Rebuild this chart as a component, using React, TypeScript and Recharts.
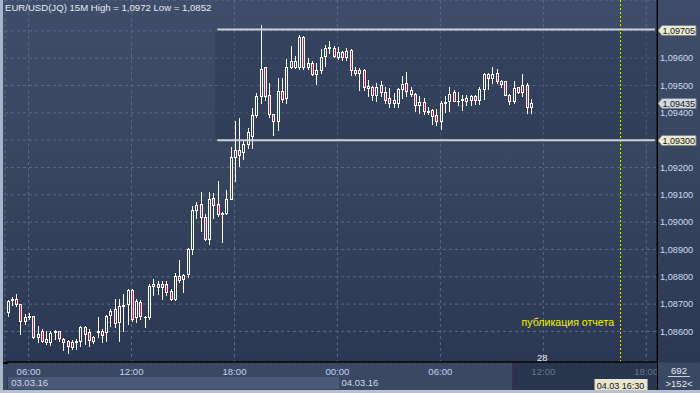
import {
  ComposedChart, Bar, XAxis, YAxis, CartesianGrid, ReferenceLine, ReferenceArea,
} from 'recharts';

const opens = [
  1.08670, 1.08716, 1.08720, 1.08700, 1.08637, 1.08651, 1.08655, 1.08578, 1.08602, 1.08562,
  1.08562, 1.08596, 1.08600, 1.08574, 1.08565, 1.08544, 1.08563, 1.08566, 1.08615, 1.08596,
  1.08566, 1.08598, 1.08602, 1.08599, 1.08659, 1.08681, 1.08633, 1.08693, 1.08700, 1.08751,
  1.08651, 1.08708, 1.08651, 1.08651, 1.08766, 1.08775, 1.08761, 1.08775, 1.08748, 1.08718,
  1.08802, 1.08791, 1.08809, 1.08900, 1.09044, 1.09065, 1.09020, 1.08937, 1.09089, 1.09065,
  1.09030, 1.09034, 1.09085, 1.09239, 1.09265, 1.09255, 1.09285, 1.09314, 1.09393, 1.09460,
  1.09567, 1.09466, 1.09396, 1.09369, 1.09481, 1.09454, 1.09567, 1.09567, 1.09567, 1.09677,
  1.09569, 1.09582, 1.09542, 1.09557, 1.09609, 1.09637, 1.09639, 1.09604, 1.09622, 1.09604,
  1.09630, 1.09557, 1.09545, 1.09557, 1.09500, 1.09493, 1.09466, 1.09503, 1.09476, 1.09454,
  1.09436, 1.09436, 1.09487, 1.09509, 1.09469, 1.09469, 1.09430, 1.09439, 1.09403, 1.09411,
  1.09393, 1.09369, 1.09436, 1.09442, 1.09476, 1.09442, 1.09446, 1.09444, 1.09448, 1.09460,
  1.09448, 1.09487, 1.09542, 1.09529, 1.09545, 1.09515, 1.09515, 1.09464, 1.09442, 1.09493,
  1.09476, 1.09503, 1.09421,
];
const highs = [
  1.08715, 1.08726, 1.08736, 1.08700, 1.08663, 1.08667, 1.08657, 1.08620, 1.08608, 1.08602,
  1.08602, 1.08606, 1.08602, 1.08576, 1.08568, 1.08568, 1.08572, 1.08620, 1.08620, 1.08608,
  1.08584, 1.08651, 1.08608, 1.08659, 1.08681, 1.08720, 1.08718, 1.08736, 1.08755, 1.08755,
  1.08720, 1.08715, 1.08655, 1.08772, 1.08791, 1.08785, 1.08785, 1.08785, 1.08754, 1.08813,
  1.08860, 1.08809, 1.08906, 1.09058, 1.09073, 1.09112, 1.09028, 1.09111, 1.09107, 1.09152,
  1.09036, 1.09116, 1.09274, 1.09369, 1.09380, 1.09300, 1.09345, 1.09418, 1.09473, 1.09720,
  1.09569, 1.09511, 1.09396, 1.09527, 1.09527, 1.09596, 1.09645, 1.09608, 1.09685, 1.09681,
  1.09600, 1.09588, 1.09582, 1.09633, 1.09649, 1.09663, 1.09645, 1.09642, 1.09627, 1.09639,
  1.09633, 1.09569, 1.09564, 1.09560, 1.09521, 1.09500, 1.09509, 1.09515, 1.09493, 1.09491,
  1.09474, 1.09491, 1.09535, 1.09550, 1.09493, 1.09472, 1.09460, 1.09456, 1.09423, 1.09414,
  1.09414, 1.09442, 1.09460, 1.09493, 1.09482, 1.09476, 1.09464, 1.09464, 1.09466, 1.09464,
  1.09493, 1.09547, 1.09547, 1.09566, 1.09560, 1.09521, 1.09517, 1.09469, 1.09515, 1.09496,
  1.09543, 1.09509, 1.09450,
];
const lows = [
  1.08657, 1.08696, 1.08693, 1.08590, 1.08627, 1.08645, 1.08576, 1.08560, 1.08560, 1.08554,
  1.08550, 1.08572, 1.08564, 1.08533, 1.08521, 1.08536, 1.08536, 1.08548, 1.08554, 1.08548,
  1.08557, 1.08578, 1.08560, 1.08566, 1.08620, 1.08615, 1.08565, 1.08602, 1.08627, 1.08639,
  1.08633, 1.08647, 1.08615, 1.08647, 1.08734, 1.08736, 1.08718, 1.08734, 1.08714, 1.08714,
  1.08779, 1.08745, 1.08799, 1.08882, 1.09014, 1.08967, 1.08934, 1.08921, 1.09016, 1.09022,
  1.08927, 1.09031, 1.09083, 1.09150, 1.09205, 1.09230, 1.09270, 1.09273, 1.09385, 1.09436,
  1.09448, 1.09383, 1.09320, 1.09338, 1.09438, 1.09436, 1.09564, 1.09564, 1.09560, 1.09561,
  1.09561, 1.09539, 1.09505, 1.09545, 1.09572, 1.09618, 1.09604, 1.09598, 1.09594, 1.09594,
  1.09539, 1.09539, 1.09484, 1.09484, 1.09462, 1.09448, 1.09445, 1.09460, 1.09436, 1.09423,
  1.09423, 1.09423, 1.09454, 1.09460, 1.09460, 1.09405, 1.09399, 1.09397, 1.09396, 1.09360,
  1.09357, 1.09342, 1.09403, 1.09405, 1.09442, 1.09430, 1.09409, 1.09430, 1.09430, 1.09433,
  1.09433, 1.09451, 1.09488, 1.09509, 1.09509, 1.09494, 1.09464, 1.09433, 1.09436, 1.09472,
  1.09460, 1.09399, 1.09399,
];
const closes = [
  1.08712, 1.08720, 1.08700, 1.08637, 1.08651, 1.08655, 1.08578, 1.08590, 1.08566, 1.08572,
  1.08594, 1.08600, 1.08575, 1.08563, 1.08547, 1.08560, 1.08566, 1.08615, 1.08590, 1.08568,
  1.08578, 1.08600, 1.08586, 1.08655, 1.08675, 1.08629, 1.08693, 1.08697, 1.08751, 1.08647,
  1.08712, 1.08657, 1.08653, 1.08766, 1.08775, 1.08761, 1.08775, 1.08746, 1.08718, 1.08802,
  1.08788, 1.08806, 1.08900, 1.09046, 1.09061, 1.09018, 1.08937, 1.09085, 1.09062, 1.09028,
  1.09034, 1.09085, 1.09239, 1.09265, 1.09247, 1.09285, 1.09330, 1.09393, 1.09462, 1.09560,
  1.09460, 1.09396, 1.09369, 1.09481, 1.09450, 1.09567, 1.09590, 1.09590, 1.09677, 1.09569,
  1.09582, 1.09542, 1.09557, 1.09604, 1.09639, 1.09642, 1.09609, 1.09622, 1.09604, 1.09627,
  1.09557, 1.09545, 1.09557, 1.09493, 1.09490, 1.09466, 1.09493, 1.09476, 1.09448, 1.09436,
  1.09448, 1.09487, 1.09507, 1.09481, 1.09482, 1.09430, 1.09439, 1.09405, 1.09407, 1.09387,
  1.09369, 1.09436, 1.09440, 1.09469, 1.09445, 1.09444, 1.09450, 1.09453, 1.09460, 1.09448,
  1.09487, 1.09542, 1.09529, 1.09542, 1.09515, 1.09505, 1.09464, 1.09445, 1.09491, 1.09476,
  1.09503, 1.09421, 1.09435,
];

// 152 visible 15-minute slots, starting 03.03 04:45
const SLOT_COUNT = 152;
const slots: string[] = [];
for (let i = 0; i < SLOT_COUNT; i++) {
  const m = 4 * 60 + 45 + i * 15;
  const day = 3 + Math.floor(m / 1440);
  const t = m % 1440;
  const p2 = (n: number) => String(n).padStart(2, '0');
  slots.push(`${p2(day)}.03 ${p2(Math.floor(t / 60))}:${p2(t % 60)}`);
}

const timeTicks = ['03.03 06:00', '03.03 12:00', '03.03 18:00', '04.03 00:00', '04.03 06:00', '04.03 12:00', '04.03 18:00'];
const dateTicks = ['03.03 04:45', '04.03 00:00'];
const dateLabels = ['03.03.16', '04.03.16'];
const priceTicks = [1.086, 1.087, 1.088, 1.089, 1.090, 1.091, 1.092, 1.093, 1.094, 1.095, 1.096, 1.097];
const hiddenPriceLabels = [1.093, 1.097];

const levelHigh = 1.09705;
const levelLow = 1.093;
const levelStart = '03.03 17:00';
const eventSlot = '04.03 16:30';
const eventLabel = 'публикация отчета';

const FONT = '"Liberation Sans", Arial, sans-serif';
const lastIndex = closes.length - 1;
const lastClose = closes[lastIndex];

const data = slots.map((t, i) => ({
  t,
  open: opens[i],
  high: highs[i],
  low: lows[i],
  close: closes[i],
}));

const fmtPrice = (v: number, digits = 5) => v.toFixed(digits).replace('.', ',');

function Candle(props: any) {
  const { x, y, width, height, payload } = props;
  if (!payload || payload.open == null || !isFinite(y) || !isFinite(height)) return <g />;
  const top = Math.min(y, y + height);
  const bot = Math.max(y, y + height);
  const k = payload.high === payload.low ? 0 : (bot - top) / (payload.high - payload.low);
  const py = (v: number) => top + (payload.high - v) * k;
  const c = Math.round(x + width / 2);
  const bodyTop = Math.round(py(Math.max(payload.open, payload.close)));
  const bodyBot = Math.round(py(Math.min(payload.open, payload.close)));
  const bear = payload.close < payload.open;
  return (
    <g>
      <line x1={c + 0.5} x2={c + 0.5} y1={Math.round(top)} y2={bodyTop} stroke="#fff" />
      <line x1={c + 0.5} x2={c + 0.5} y1={bodyBot + 1} y2={Math.round(bot) + 1} stroke="#fff" />
      {bodyBot - bodyTop < 1 ? (
        <line x1={c - 1} x2={c + 2} y1={bodyTop + 0.5} y2={bodyTop + 0.5} stroke="#fff" />
      ) : (
        <rect x={c - 0.5} y={bodyTop + 0.5} width={2} height={bodyBot - bodyTop}
          fill={bear ? '#e3123e' : 'none'} stroke="#fff" />
      )}
    </g>
  );
}

const PriceTick = (props: any) => {
  const v = props.payload.value;
  if (hiddenPriceLabels.includes(v)) return <g />;
  return (
    <text x={660} y={props.y + 3.3} fontSize={9.2} fill="#cddaf0" fontFamily={FONT}>{fmtPrice(v)}</text>
  );
};

const TimeTick = (props: any) => {
  const idx = slots.indexOf(props.payload.value);
  const future = idx > lastIndex;
  return (
    <text x={props.x} y={374.5} textAnchor="middle" fontSize={9.6} fontFamily={FONT}
      fill={future ? '#66758f' : '#c0d3f0'}>
      {String(props.payload.value).slice(6)}
    </text>
  );
};

const DateTick = (props: any) => {
  const i = dateTicks.indexOf(props.payload.value);
  return (
    <text x={props.x + 4} y={386} fontSize={9.5} fontFamily={FONT} fill="#d0d8e8">{dateLabels[i]}</text>
  );
};

const tagRenderer = (value: number, fill: string) => (p: any) => {
  const vb = p.viewBox || {};
  const x = vb.x + vb.width;
  const y = Math.round(vb.y) + 0.5;
  return (
    <g>
      <path d={`M${x + 1} ${y} L${x + 5} ${y - 5} H${x + 39} V${y + 5} H${x + 5} Z`}
        fill={fill} stroke="#7b8393" strokeWidth={1} />
      <text x={x + 5.5} y={y + 3.3} fontSize={9} fill="#15171d" fontFamily={FONT}>{fmtPrice(value)}</text>
    </g>
  );
};

const eventRenderer = (p: any) => {
  const vb = p.viewBox || {};
  const x = vb.x;
  const bottom = vb.y + vb.height;
  return (
    <g>
      <text x={x - 6.5} y={bottom - 36} textAnchor="end" fontSize={10.6} fill="#f2f200" fontFamily={FONT}>
        {eventLabel}
      </text>
      <rect x={x - 26} y={bottom + 17} width={53} height={12} fill="#e9e6cf" />
      <text x={x} y={bottom + 26.5} textAnchor="middle" fontSize={9} fill="#111" fontFamily={FONT}>
        {eventSlot}
      </text>
    </g>
  );
};

export default function App() {
  const hi = Math.max(...highs);
  const lo = Math.min(...lows);

  return (
    <>
      <style>{'body{margin:0}'}</style>
      <div style={{
        position: 'relative', width: 700, height: 393, overflow: 'hidden', fontFamily: FONT,
        background: 'linear-gradient(#3f4d6a 0px, #37455f 170px, #2c3853 362px, #3b4864 363px, #3b4864 393px)',
      }}>
        {/* axis strips behind the chart */}
        <div style={{ position: 'absolute', left: 7, top: 377, width: 331, height: 12, background: '#4a5977', borderLeft: '1px solid #2f3a52' }} />
        <div style={{ position: 'absolute', left: 512, top: 363, width: 145, height: 27, background: '#29344d', borderLeft: '1px solid #4a2c40' }} />

        <div style={{ position: 'absolute', left: 0, top: 0 }}>
          <ComposedChart width={700} height={393} data={data} margin={{ top: 0, right: 0, left: 5, bottom: 0 }}>
            <CartesianGrid stroke="#5a6a89" strokeDasharray="3 3" />
            <XAxis dataKey="t" ticks={timeTicks} interval={0} height={14} tickLine={false}
              axisLine={{ stroke: '#000', strokeWidth: 1.5 }} tick={(p: any) => <TimeTick {...p} />} />
            <XAxis xAxisId="date" dataKey="t" ticks={dateTicks} interval={0} height={17} tickLine={false}
              axisLine={false} tick={(p: any) => <DateTick {...p} />} />
            <YAxis orientation="right" width={43} domain={[1.08488, 1.09813]} allowDataOverflow
              ticks={priceTicks} interval={0} tickLine={false} axisLine={{ stroke: '#000' }}
              tick={(p: any) => <PriceTick {...p} />} />
            <ReferenceArea x1={levelStart} x2={slots[SLOT_COUNT - 1]} y1={levelLow} y2={levelHigh}
              fill="#101a30" fillOpacity={0.18} stroke="none" />
            <ReferenceLine segment={[{ x: levelStart, y: levelHigh }, { x: slots[SLOT_COUNT - 1], y: levelHigh }]}
              stroke="#cdd1d9" strokeWidth={2} />
            <ReferenceLine segment={[{ x: levelStart, y: levelLow }, { x: slots[SLOT_COUNT - 1], y: levelLow }]}
              stroke="#cdd1d9" strokeWidth={2} />
            <ReferenceLine x={eventSlot} stroke="#e6e600" strokeDasharray="2 2" label={eventRenderer} />
            <Bar dataKey={(d: any) => (d.open == null ? undefined : [d.low, d.high])} barSize={3}
              isAnimationActive={false} shape={(p: any) => <Candle {...p} />} />
            <ReferenceLine y={levelHigh} stroke="none" label={tagRenderer(levelHigh, '#ece9d2')} />
            <ReferenceLine y={lastClose} stroke="none" label={tagRenderer(lastClose, '#d3d7de')} />
            <ReferenceLine y={levelLow} stroke="none" label={tagRenderer(levelLow, '#ece9d2')} />
          </ComposedChart>
        </div>

        {/* header */}
        <div style={{ position: 'absolute', left: 5, top: 3, fontSize: 9.6, lineHeight: '10px', color: '#e6ebf3', whiteSpace: 'nowrap' }}>
          EUR/USD(JQ) 15M High = {fmtPrice(hi, 4)} Low = {fmtPrice(lo, 4)}
        </div>

        {/* bar counter marker */}
        <div style={{ position: 'absolute', left: 529, top: 355, width: 0, height: 0, borderLeft: '3px solid transparent', borderRight: '3px solid transparent', borderBottom: '4px solid #3e2c48' }} />
        <div style={{ position: 'absolute', left: 537, top: 352, fontSize: 9.5, color: '#e8eef8' }}>28</div>

        {/* right bottom panel */}
        <div style={{ position: 'absolute', left: 658, top: 363, width: 42, height: 27, background: '#3b4864' }}>
          <div style={{ position: 'absolute', left: 0, width: 42, top: 2, textAlign: 'center', fontSize: 9.5, color: '#e6ebf3' }}>692</div>
          <div style={{ position: 'absolute', left: 10, width: 22, top: 13, height: 1, background: '#c8d0dc' }} />
          <div style={{ position: 'absolute', left: 0, width: 42, top: 15, textAlign: 'center', fontSize: 9.5, color: '#e6ebf3' }}>
            {'>'}{SLOT_COUNT}{'<'}
          </div>
        </div>
        <div style={{ position: 'absolute', left: 657, top: 0, width: 1, height: 390, background: '#000' }} />
        <div style={{ position: 'absolute', left: 0, top: 362, width: 8, height: 1.5, background: '#000' }} />

        {/* window frame */}
        <div style={{ position: 'absolute', left: 0, top: 0, width: 3, height: 393, background: '#a9b5c8' }} />
        <div style={{ position: 'absolute', left: 0, top: 390, width: 700, height: 3, background: '#b7c1cf' }} />
      </div>
    </>
  );
}
